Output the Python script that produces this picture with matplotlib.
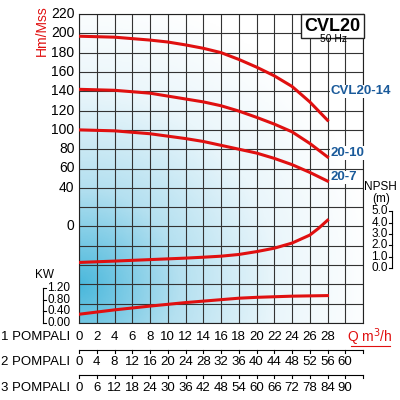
import numpy as np
import matplotlib.pyplot as plt
import matplotlib.transforms as mtransforms
from matplotlib.colors import LinearSegmentedColormap

plt.rcParams['font.family'] = ['Liberation Sans', 'DejaVu Sans']

q = [0, 2, 4, 6, 8, 10, 12, 14, 16, 18, 20, 22, 24, 26, 28]
head_14 = [197, 196.5, 196, 194.5, 193, 191, 188, 184.5, 180, 173, 165, 156, 145, 129, 110]
head_10 = [142, 141.5, 141, 139.5, 138, 135, 132, 129, 125, 119.5, 113, 106, 98, 86, 72]
head_7 = [100, 99.5, 99, 97.5, 96, 93.5, 91, 88, 84, 80, 76, 70.5, 64, 56, 47]
npsh_q = [0, 4, 8, 12, 14, 16, 18, 20, 22, 24, 26, 27, 28]
npsh = [0.5, 0.62, 0.75, 0.88, 0.96, 1.05, 1.2, 1.45, 1.75, 2.2, 2.9, 3.5, 4.2]
kw_q = [0, 4, 8, 12, 14, 16, 18, 20, 22, 24, 26, 28]
kw = [0.3, 0.45, 0.58, 0.7, 0.75, 0.8, 0.85, 0.88, 0.9, 0.92, 0.93, 0.94]
q_ticks = list(range(0, 30, 2))
q2_labels = list(range(0, 64, 4))
q3_labels = list(range(0, 96, 6))
head_ticks = [0, 40, 60, 80, 100, 120, 140, 160, 180, 200, 220]

def npsh_to_y(n):
    return -43.2 + 11.8 * np.asarray(n)

def kw_to_y(k):
    return -100 + 30.2 * np.asarray(k)

red = '#e01010'
blue = '#1a5a9a'
fs = 9.5

fig = plt.figure(figsize=(4, 4), dpi=100)
ax = fig.add_axes([79/400, 77/400, 284/400, 309/400])
ax.set_xlim(0, 32)
ax.set_ylim(-100, 220)

# background gradient, strongest near bottom left
yy, xx = np.mgrid[0:1:200j, 0:1:200j]
d = np.sqrt((xx * 1.0) ** 2 + ((yy - 0.12) * 1.1) ** 2)
cmap = LinearSegmentedColormap.from_list('bg', ['#4ab8dc', '#b4e0f0', '#eaf6fb', '#ffffff'])
ax.imshow(d, extent=[0, 32, -100, 220], origin='lower', aspect='auto', cmap=cmap, vmin=0, vmax=1.05, zorder=0)

ax.set_xticks(range(0, 33, 2))
ax.set_yticks(range(-100, 221, 20))
ax.grid(True, color='#333333', lw=0.8)
ax.tick_params(length=0, labelbottom=False, labelleft=False)
for s in ax.spines.values():
    s.set_color('#222222')

for h in (head_14, head_10, head_7):
    ax.plot(q, h, color=red, lw=2.2, zorder=3)
ax.plot(npsh_q, npsh_to_y(npsh), color=red, lw=2.2, zorder=3)
ax.plot(kw_q, kw_to_y(kw), color=red, lw=2.2, zorder=3)

for v in head_ticks:
    ax.text(-0.5, v, str(v), ha='right', va='center', fontsize=10)
ax.text(-4.2, 203, 'Hm/Mss', color=red, rotation=90, ha='center', va='center', fontsize=10)

lbl_box = dict(boxstyle='square,pad=0.05', fc='white', ec='none')
ax.text(28.3, 140, 'CVL20-14', color=blue, fontsize=fs, fontweight='bold', va='center', ha='left',
        clip_on=False, bbox=lbl_box, zorder=4)
ax.text(28.3, 76, '20-10', color=blue, fontsize=fs, fontweight='bold', va='center', ha='left',
        clip_on=False, bbox=lbl_box, zorder=4)
ax.text(28.3, 51, '20-7', color=blue, fontsize=fs, fontweight='bold', va='center', ha='left',
        clip_on=False, bbox=lbl_box, zorder=4)

ax.text(31.7, 216, 'CVL20', fontsize=13, fontweight='bold', ha='right', va='top',
        bbox=dict(boxstyle='square,pad=0.2', fc='white', ec='#222222', lw=1))
ax.text(28.7, 194, '50 Hz', fontsize=7.5, ha='center', va='center')

# NPSH scale
nx = 35.3
ax.text(34.0, 35, 'NPSH\n(m)', ha='center', va='center', fontsize=8.5, clip_on=False, linespacing=1.0)
ax.plot([nx, nx], npsh_to_y([0, 5]), color='k', lw=0.8, clip_on=False)
for n in range(6):
    ax.plot([nx - 0.4, nx], npsh_to_y([n, n]), color='k', lw=0.8, clip_on=False)
    ax.text(nx - 0.5, npsh_to_y(n), f'{n:.1f}', ha='right', va='center', fontsize=8.5, clip_on=False)

# KW scale
kx = -4.1
ax.text(-3.9, kw_to_y(1.65), 'KW', ha='center', va='center', fontsize=8.5)
ax.plot([kx, kx], kw_to_y([0, 1.2]), color='k', lw=0.8, clip_on=False)
for k in [0, 0.4, 0.8, 1.2]:
    ax.plot([kx, kx + 0.4], kw_to_y([k, k]), color='k', lw=0.8, clip_on=False)
    ax.text(kx + 0.5, kw_to_y(k), f'{k:.2f}', ha='left', va='center', fontsize=8.5, clip_on=False)

# pump count scales
tr = mtransforms.blended_transform_factory(ax.transData, fig.transFigure)
fig.text(1/400, 1 - 337/400, '1 POMPALI', fontsize=fs, va='center')
fig.text(1/400, 1 - 362/400, '2 POMPALI', fontsize=fs, va='center')
fig.text(1/400, 1 - 388/400, '3 POMPALI', fontsize=fs, va='center')
for qt in q_ticks:
    fig.text(qt, 1 - 337/400, str(qt), transform=tr, ha='center', va='center', fontsize=fs)
for i, lab in enumerate(q2_labels):
    fig.text(2 * i, 1 - 362/400, str(lab), transform=tr, ha='center', va='center', fontsize=fs)
for i, lab in enumerate(q3_labels):
    fig.text(2 * i, 1 - 388/400, str(lab), transform=tr, ha='center', va='center', fontsize=fs)
for yl in (1 - 350/400, 1 - 375/400):
    fig.add_artist(plt.Line2D([0, 32], [yl, yl], transform=tr, color='k', lw=0.8))
    for i in range(17):
        fig.add_artist(plt.Line2D([2 * i, 2 * i], [yl, yl - 0.008], transform=tr, color='k', lw=0.8))
fig.text(32.8, 1 - 337/400, 'Q m$^3$/h', transform=tr, color=red, fontsize=10, ha='center', va='center')
fig.add_artist(plt.Line2D([30.6, 35.0], [1 - 346/400] * 2, transform=tr, color=red, lw=0.8))

fig.savefig('out.png', dpi=100)
